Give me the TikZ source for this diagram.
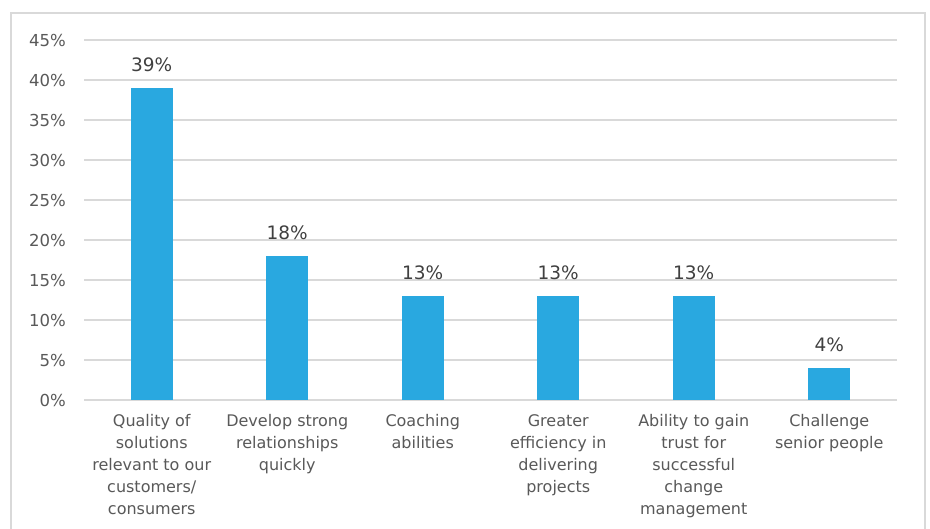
\documentclass[tikz,border=0pt]{standalone}
\usepackage{fontspec}
\setmainfont{DejaVu Sans}
\usetikzlibrary{positioning}

\definecolor{barblue}{HTML}{29A8E0}
\definecolor{gridgray}{HTML}{D9D9D9}
\definecolor{textgray}{HTML}{595959}
\definecolor{labelgray}{HTML}{404040}

\begin{document}
\begin{tikzpicture}[x=1pt,y=-1pt,
  grid line/.style={gridgray,line width=1.5pt},
  bar node/.style={fill=barblue,inner sep=0pt,minimum width=42pt,anchor=south},
  value node/.style={labelgray,inner sep=0pt,anchor=base,font=\fontsize{18.5}{22}\selectfont},
  tick node/.style={textgray,inner sep=0pt,anchor=east,font=\fontsize{16.5}{22}\selectfont},
  cat node/.style={textgray,inner sep=0pt,anchor=north,align=center,font=\fontsize{16}{22}\selectfont}]
  \clip (0,0) rectangle (930,528);
  \fill[white] (0,0) rectangle (930,528);
  \draw[grid line] (11,13) rectangle (925,560);
  % gridlines and axis labels
  \foreach \p in {0,5,...,45}
  {
    \draw[grid line] (84,400-8*\p) -- (897,400-8*\p);
    \node[tick node] (tick\p) at (66,400-8*\p) {\p\%};
  }
  % bars
  \foreach \v/\lab [count=\i] in {39/{Quality of\\solutions\\relevant to our\\customers/\\consumers},
      18/{Develop strong\\relationships\\quickly},
      13/{Coaching\\abilities},
      13/{Greater\\efficiency in\\delivering\\projects},
      13/{Ability to gain\\trust for\\successful\\change\\management},
      4/{Challenge\\senior people}}
  {
    \node[bar node,minimum height=8*\v pt] (bar\i) at (84+135.5*\i-67.75,400) {};
    \node[value node] (val\i) at ([yshift=16pt]bar\i.north) {\v\%};
    \node[cat node] (cat\i) at (84+135.5*\i-67.75,414) {\lab};
  }
\end{tikzpicture}
\end{document}
